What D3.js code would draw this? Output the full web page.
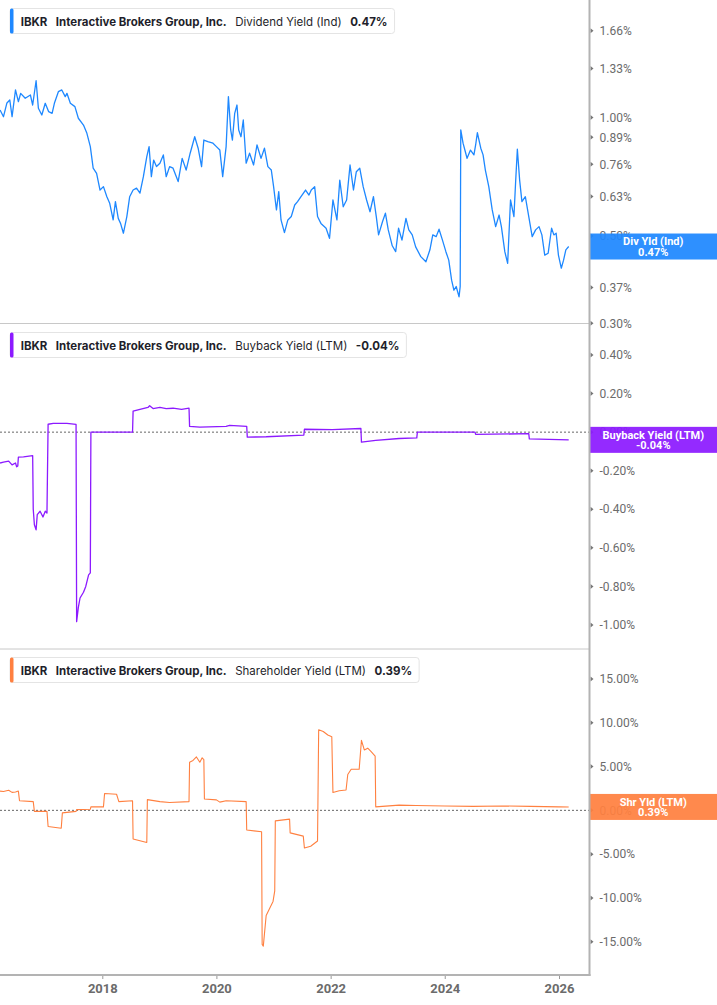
<!DOCTYPE html>
<html>
<head>
<meta charset="utf-8">
<title>IBKR yields</title>
<style>
  html, body { margin: 0; padding: 0; background: #fff; }
  svg { display: block; }
  .legend text { font-family: 'Inter', 'Roboto', sans-serif; font-size: 11.5px; fill: #1f1f2b; }
  .ytick { font-family: 'Roboto', sans-serif; font-size: 12px; fill: #6b6b6b; }
  .xaxis text { font-family: 'Roboto', sans-serif; font-size: 13px; font-weight: 700; fill: #6b6b6b; }
  .endlbl { font-family: 'Roboto', sans-serif; font-size: 11px; font-weight: 700; fill: #fff; }
</style>
</head>
<body>
<script src="https://d3js.org/d3.v7.min.js"></script>
<script>

// dividend yield (indicated), %
const divYears = [2016.21,2016.27,2016.33,2016.38,2016.42,2016.48,2016.53,2016.57,2016.65,2016.74,
  2016.78,2016.84,2016.88,2016.94,2017.00,2017.06,2017.12,2017.16,2017.23,2017.29,
  2017.35,2017.38,2017.44,2017.52,2017.58,2017.67,2017.73,2017.79,2017.84,2017.90,
  2017.96,2018.02,2018.08,2018.13,2018.19,2018.23,2018.28,2018.32,2018.37,2018.43,
  2018.48,2018.54,2018.60,2018.66,2018.72,2018.78,2018.82,2018.86,2018.90,2018.95,
  2019.01,2019.07,2019.12,2019.18,2019.24,2019.33,2019.40,2019.47,2019.54,2019.62,
  2019.68,2019.74,2019.78,2019.85,2019.94,2020.00,2020.06,2020.11,2020.17,2020.21,
  2020.25,2020.28,2020.32,2020.36,2020.39,2020.43,2020.47,2020.52,2020.58,2020.65,
  2020.71,2020.78,2020.84,2020.90,2020.96,2021.00,2021.05,2021.09,2021.13,2021.19,
  2021.25,2021.31,2021.37,2021.42,2021.48,2021.56,2021.62,2021.66,2021.72,2021.77,
  2021.83,2021.92,2021.98,2022.04,2022.11,2022.16,2022.22,2022.28,2022.34,2022.40,
  2022.45,2022.51,2022.57,2022.63,2022.69,2022.75,2022.80,2022.84,2022.91,2022.96,
  2023.01,2023.08,2023.14,2023.19,2023.25,2023.32,2023.37,2023.43,2023.49,2023.58,
  2023.67,2023.74,2023.79,2023.85,2023.90,2023.96,2024.02,2024.07,2024.12,2024.16,
  2024.20,2024.25,2024.27,2024.28,2024.32,2024.36,2024.39,2024.45,2024.51,2024.54,
  2024.57,2024.63,2024.67,2024.71,2024.77,2024.83,2024.89,2024.95,2024.99,2025.05,
  2025.10,2025.15,2025.21,2025.24,2025.27,2025.31,2025.35,2025.41,2025.47,2025.53,
  2025.59,2025.65,2025.70,2025.75,2025.81,2025.87,2025.91,2025.95,2025.99,2026.04,
  2026.08,2026.12,2026.17];
const divYield = [1.044,1.004,1.088,1.107,1.004,1.174,1.096,1.151,1.118,1.140,
  1.075,1.239,1.055,1.014,1.086,1.034,1.024,1.086,1.162,1.174,
  1.129,1.151,1.086,1.065,0.995,0.956,0.911,0.843,0.743,0.721,
  0.654,0.667,0.629,0.605,0.549,0.611,0.554,0.538,0.508,0.560,
  0.629,0.654,0.661,0.642,0.707,0.795,0.843,0.707,0.779,0.750,
  0.765,0.803,0.707,0.750,0.743,0.687,0.787,0.735,0.811,0.893,
  0.835,0.750,0.876,0.868,0.860,0.843,0.826,0.707,0.843,1.129,
  0.929,0.876,1.024,1.075,0.929,0.893,0.985,0.765,0.811,0.757,
  0.851,0.787,0.835,0.750,0.735,0.667,0.582,0.648,0.549,0.510,
  0.549,0.560,0.599,0.611,0.629,0.654,0.635,0.654,0.667,0.560,
  0.538,0.523,0.493,0.617,0.549,0.693,0.593,0.617,0.757,0.654,
  0.728,0.743,0.667,0.617,0.576,0.629,0.560,0.503,0.544,0.571,
  0.518,0.472,0.456,0.523,0.488,0.554,0.518,0.503,0.469,0.443,
  0.430,0.461,0.503,0.498,0.520,0.488,0.456,0.434,0.386,0.364,
  0.372,0.350,0.372,0.929,0.860,0.818,0.787,0.826,0.803,0.851,
  0.914,0.835,0.803,0.735,0.667,0.582,0.528,0.565,0.528,0.456,
  0.426,0.617,0.560,0.687,0.830,0.693,0.611,0.629,0.560,0.498,
  0.518,0.528,0.503,0.447,0.452,0.523,0.503,0.508,0.447,0.414,
  0.434,0.461,0.47];

// buyback yield (LTM), %
const buyYears = [2016.21,2016.27,2016.36,2016.42,2016.48,2016.50,2016.52,2016.53,2016.62,2016.78,
  2016.79,2016.81,2016.84,2016.86,2016.91,2016.96,2017.00,2017.03,2017.05,2017.14,
  2017.38,2017.54,2017.55,2017.58,2017.61,2017.67,2017.71,2017.76,2017.79,2017.80,
  2018.53,2018.54,2018.66,2018.80,2018.83,2018.89,2019.01,2019.12,2019.24,2019.39,
  2019.52,2019.53,2019.71,2020.17,2020.23,2020.53,2020.54,2020.87,2021.53,2021.54,
  2022.03,2022.53,2022.54,2022.79,2023.20,2023.51,2023.52,2024.53,2024.54,2025.47,
  2025.48,2026.17];
const buyYield = [-0.16,-0.155,-0.15,-0.17,-0.16,-0.18,-0.175,-0.13,-0.128,-0.122,
  -0.40,-0.48,-0.507,-0.428,-0.41,-0.44,-0.41,-0.419,0.041,0.045,
  0.045,0.04,-0.983,-0.909,-0.86,-0.83,-0.80,-0.74,-0.73,0.0,
  0.0,0.109,0.118,0.128,0.137,0.122,0.128,0.122,0.124,0.118,
  0.124,0.03,0.026,0.03,0.035,0.03,-0.026,-0.024,-0.015,0.015,
  0.013,0.019,-0.052,-0.043,-0.033,-0.03,0.0,0.0,-0.012,-0.008,
  -0.035,-0.04];

// shareholder yield (LTM), %
const shrYears = [2016.21,2016.27,2016.36,2016.42,2016.48,2016.53,2016.55,2016.79,2016.81,2017.03,
  2017.05,2017.28,2017.30,2017.54,2017.55,2017.79,2017.80,2018.02,2018.04,2018.25,
  2018.29,2018.53,2018.54,2018.66,2018.78,2018.79,2019.01,2019.18,2019.52,2019.53,
  2019.59,2019.65,2019.71,2019.75,2019.78,2019.79,2020.00,2020.06,2020.17,2020.52,
  2020.53,2020.79,2020.80,2020.82,2020.87,2020.93,2020.99,2021.02,2021.03,2021.28,
  2021.29,2021.52,2021.54,2021.65,2021.77,2021.79,2021.87,2021.95,2022.02,2022.04,
  2022.15,2022.27,2022.30,2022.36,2022.50,2022.54,2022.59,2022.65,2022.71,2022.78,
  2022.79,2023.20,2023.50,2024.00,2024.50,2025.00,2025.50,2026.00,2026.17];
const shrYield = [2.2,2.15,2.3,2.05,2.1,2.2,1.1,1.0,-0.12,-0.12,
  -1.84,-2.04,-0.29,-0.12,0.08,0.12,0.4,0.4,1.92,1.84,
  1.0,1.1,-3.27,-3.47,-3.67,1.22,1.0,0.9,1.0,5.5,
  5.7,6.1,5.5,6.0,5.8,1.3,1.2,0.94,1.1,1.0,
  -2.24,-2.45,-15.3,-15.5,-12.0,-11.2,-10.4,-9.2,-1.2,-1.0,
  -2.57,-2.94,-4.3,-4.1,-3.5,9.2,9.0,8.6,8.4,2.04,
  2.24,2.33,4.1,4.7,4.7,8.0,6.9,7.1,6.7,6.2,
  0.4,0.6,0.55,0.5,0.45,0.5,0.45,0.4,0.39];

// tick labels
const divTicks = [0.30, 0.37, 0.50, 0.63, 0.76, 0.89, 1.00, 1.33, 1.66];
const buyTicks = [0.4, 0.2, 0, -0.2, -0.4, -0.6, -0.8, -1.0];
const shrTicks = [15, 10, 5, 0, -5, -10, -15];
const yearTicks = [2018, 2020, 2022, 2024, 2026];

// decimal year -> Date
function toDate(y) {
  const yr = Math.floor(y);
  const a = new Date(yr, 0, 1), b = new Date(yr + 1, 0, 1);
  return new Date(+a + (y - yr) * (b - a));
}

const width = 717, height = 1005;
const axisX = 589.5;
const bottomY = 975;

const svg = d3.select("body").append("svg")
    .attr("width", width)
    .attr("height", height);

const x = d3.scaleTime()
    .domain([new Date(2018, 0, 1), new Date(2026, 0, 1)])
    .range([102.3, 559]);

const panels = [
  { top: 0, bottom: 323.5, years: divYears, vals: divYield, ticks: divTicks,
    y: d3.scaleLog().domain([0.30, 1.66]).range([323.3, 30.7]),
    color: "#1e88ff", width: 1.3, zero: false,
    metric: "Dividend Yield (Ind)", value: "0.47%", short: "Div Yld (Ind)", last: 0.47 },
  { top: 324, bottom: 649, years: buyYears, vals: buyYield, ticks: buyTicks,
    y: d3.scaleLinear().domain([-1.0, 0.4]).range([625, 355]),
    color: "#8c1aff", width: 1.3, zero: true,
    metric: "Buyback Yield (LTM)", value: "-0.04%", short: "Buyback Yield (LTM)", last: -0.04 },
  { top: 649, bottom: 975, years: shrYears, vals: shrYield, ticks: shrTicks,
    y: d3.scaleLinear().domain([-15, 15]).range([941.7, 679]),
    color: "#ff8040", width: 1.1, zero: true,
    metric: "Shareholder Yield (LTM)", value: "0.39%", short: "Shr Yld (LTM)", last: 0.39 }
];

panels.forEach(function(p, i) {
  const g = svg.append("g");

  // clip
  svg.append("clipPath").attr("id", "clip" + i)
    .append("rect")
      .attr("x", 0).attr("y", p.top)
      .attr("width", axisX).attr("height", p.bottom - p.top);

  // separator under panel
  if (i < 2) {
    g.append("line")
      .attr("x1", 0).attr("x2", axisX)
      .attr("y1", p.bottom).attr("y2", p.bottom)
      .attr("stroke", "#c8c8c8").attr("stroke-width", 1);
  }

  if (p.zero) {
    g.append("line")
      .attr("x1", 0).attr("x2", axisX)
      .attr("y1", p.y(0)).attr("y2", p.y(0))
      .attr("stroke", "#666").attr("stroke-width", 1)
      .attr("stroke-dasharray", "2,2");
  }

  const data = p.years.map((yr, k) => ({ date: toDate(yr), v: p.vals[k] }));

  const line = d3.line()
      .x(d => x(d.date))
      .y(d => p.y(d.v));

  g.append("path")
      .datum(data)
      .attr("clip-path", "url(#clip" + i + ")")
      .attr("fill", "none")
      .attr("stroke", p.color)
      .attr("stroke-width", p.width)
      .attr("stroke-linejoin", "round")
      .attr("d", line);

  // y ticks
  const t = g.selectAll(".yt").data(p.ticks).enter().append("g")
      .attr("transform", d => "translate(" + axisX + "," + p.y(d) + ")");
  t.append("path")
      .attr("d", "M1,-2.5L4,0L1,2.5Z")
      .attr("fill", "#777");
  t.append("text")
      .attr("class", "ytick")
      .attr("x", 10)
      .attr("dy", "0.35em")
      .text(d => d.toFixed(2) + "%");

  // legend box
  const lg = g.append("g").attr("class", "legend");
  const box = lg.append("rect")
      .attr("x", 10).attr("y", p.top + 8.5)
      .attr("height", 25).attr("rx", 3)
      .attr("fill", "#fff").attr("stroke", "#e4e4e4");
  lg.append("rect")
      .attr("x", 10).attr("y", p.top + 8.5)
      .attr("width", 3.5).attr("height", 25).attr("rx", 1.5)
      .attr("fill", p.color);

  const parts = [
    { s: "IBKR", w: 700 },
    { s: "Interactive Brokers Group, Inc.", w: 700 },
    { s: p.metric, w: 400 },
    { s: p.value, w: 700 }
  ];
  let cx = 20.7;
  parts.forEach(function(q) {
    const tx = lg.append("text")
        .attr("x", cx).attr("y", p.top + 21.5)
        .attr("dy", "0.35em")
        .style("font-weight", q.w)
        .text(q.s);
    cx += tx.node().getComputedTextLength() + 8.5;
  });
  box.attr("width", cx - 8.5 + 7 - 10);

  // end label
  const c = p.y(p.last);
  g.append("rect")
      .attr("x", axisX + 0.5).attr("y", c - 13)
      .attr("width", width - axisX).attr("height", 26)
      .attr("fill", p.color).attr("fill-opacity", 0.93);
  g.append("text").attr("class", "endlbl")
      .attr("x", (axisX + width) / 2).attr("y", c - 5)
      .attr("dy", "0.35em").attr("text-anchor", "middle")
      .text(p.short);
  g.append("text").attr("class", "endlbl")
      .attr("x", (axisX + width) / 2).attr("y", c + 5.5)
      .attr("dy", "0.35em").attr("text-anchor", "middle")
      .text(p.value);
});

// frame: right axis and bottom axis
svg.append("line")
    .attr("x1", axisX).attr("x2", axisX)
    .attr("y1", 0).attr("y2", bottomY + 1)
    .attr("stroke", "#b3b3b3").attr("stroke-width", 2);

const xAxis = svg.append("g")
    .attr("class", "xaxis")
    .attr("transform", "translate(0," + bottomY + ")")
    .call(d3.axisBottom(x)
      .tickValues(yearTicks.map(d => new Date(d, 0, 1)))
      .tickFormat(d3.timeFormat("%Y"))
      .tickSize(4)
      .tickPadding(5));
xAxis.select(".domain").remove();
xAxis.selectAll(".tick line").attr("stroke", "#999");

svg.append("line")
    .attr("x1", 0).attr("x2", axisX + 1)
    .attr("y1", bottomY).attr("y2", bottomY)
    .attr("stroke", "#b3b3b3").attr("stroke-width", 2);

</script>
</body>
</html>
